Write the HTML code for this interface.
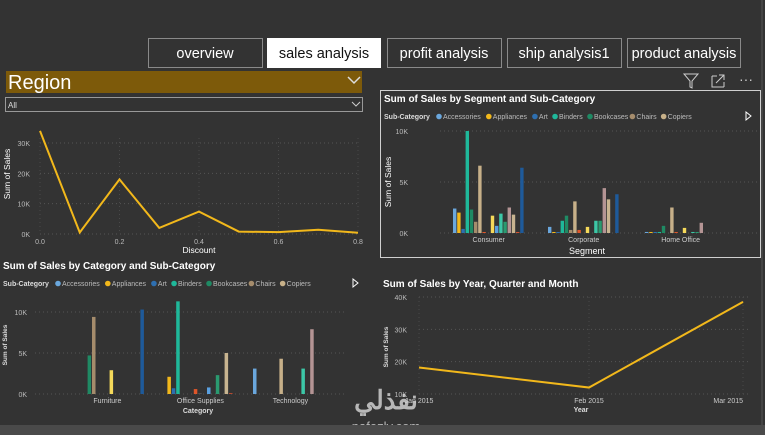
<!DOCTYPE html>
<html><head><meta charset="utf-8">
<style>
html,body{margin:0;padding:0;background:#333333;width:765px;height:435px;overflow:hidden;font-family:"Liberation Sans",sans-serif;}
svg{display:block}
</style></head>
<body>
<svg id="root" width="765" height="435" xmlns="http://www.w3.org/2000/svg" font-family="Liberation Sans, sans-serif">
  <rect x="0" y="0" width="765" height="435" fill="#333333"/>
  <line x1="762" y1="0" x2="762" y2="425" stroke="#555"/>
  <g>
    <g><rect x="148.5" y="38.5" width="114" height="29" fill="#333" stroke="#8a8a8a"/><text x="205" y="58" fill="#fff" font-size="14.5" text-anchor="middle">overview</text></g>
    <g><rect x="267" y="38" width="114" height="30" fill="#fff"/><text x="324" y="58" fill="#111" font-size="14.5" text-anchor="middle">sales analysis</text></g>
    <g><rect x="387.5" y="38.5" width="114" height="29" fill="#333" stroke="#8a8a8a"/><text x="444" y="58" fill="#fff" font-size="14.5" text-anchor="middle">profit analysis</text></g>
    <g><rect x="507.5" y="38.5" width="114" height="29" fill="#333" stroke="#8a8a8a"/><text x="564" y="58" fill="#fff" font-size="14.5" text-anchor="middle">ship analysis1</text></g>
    <g><rect x="627.5" y="38.5" width="113" height="29" fill="#333" stroke="#8a8a8a"/><text x="684" y="58" fill="#fff" font-size="14.5" text-anchor="middle">product analysis</text></g>
  </g>
  <g>
    <rect x="6" y="71" width="356" height="22" fill="#7d5a0a"/>
    <text x="8" y="89" fill="#fff" font-size="20">Region</text>
    <path d="M348 77 L354 83 L360 77" fill="none" stroke="#ddd" stroke-width="1.5"/>
    <rect x="5.5" y="97.5" width="357" height="14" fill="#333" stroke="#999"/>
    <text x="8" y="108" fill="#ddd" font-size="8">All</text>
    <path d="M352 102 L356 106 L360 102" fill="none" stroke="#ccc"/>
  </g>
  <g>
    <path d="M684 74 L698 74 L692 81 L692 88 L690 87 L690 81 Z" fill="none" stroke="#ccc"/>
    <path d="M712 76 L712 87 L724 87 M712 76 L717 76 M724 82 L724 87 M716 83 L724 75 M719 75 L724 75 L724 80" fill="none" stroke="#ccc"/>
    <text x="739" y="84" fill="#ccc" font-size="14">···</text>
  </g>
  <rect x="380.5" y="90.5" width="380" height="167" fill="none" stroke="#cfcfcf"/>
  <g id="c1"></g>
  <g id="c2"></g>
  <g id="c3"></g>
  <g id="c4"></g>
  <g opacity="0.8">
    <text x="386" y="409" fill="#d8d8d8" font-size="26" font-weight="bold" text-anchor="middle" font-family="Liberation Sans, Noto Sans CJK SC, sans-serif">نفذلي</text>
    <text x="386" y="431" fill="#d8d8d8" font-size="13" text-anchor="middle">nafezly.com</text>
  </g>
  <rect x="0" y="425" width="765" height="10" fill="#4a4a4a"/>
</svg>
<script>
const NS='http://www.w3.org/2000/svg';
function mk(p,tag,attrs,txt){const e=document.createElementNS(NS,tag);for(const k in attrs)e.setAttribute(k,attrs[k]);if(txt!==undefined)e.textContent=txt;p.appendChild(e);return e;}

// ---- Chart 1: Sales by Discount ----
const discX=[0,0.1,0.2,0.3,0.4,0.5,0.6,0.7,0.8];
const discSales=[34000,500,18000,2000,7400,800,600,1400,400];
const discXTicks=[0,0.2,0.4,0.6,0.8];
const discXTickLabels=['0.0','0.2','0.4','0.6','0.8'];
const discYTicks=[0,10000,20000,30000];
const discYTickLabels=['0K','10K','20K','30K'];

// ---- Chart 2: Segment x Sub-Category ----
const subCats=['Accessories','Appliances','Art','Binders','Bookcases','Chairs','Copiers','Envelopes','Fasteners','Furnishings','Labels','Machines','Paper','Phones','Storage','Supplies','Tables'];
const subColors=['#6aa7dd','#f2b81b','#2e6fb0','#1fb89a','#1f8a64','#a58c6c','#c7b089','#e0562a','#555555','#f5d95a','#5aa0e0','#3cc7a7','#2a9a70','#b49494','#c8b490','#d05030','#1e5a9a'];
const segments=['Consumer','Corporate','Home Office'];
const segConsumer=[2400,2000,400,10000,2300,1100,6600,100,0,1700,700,1900,1100,2500,1800,100,6400];
const segCorporate=[600,100,100,1200,1700,300,3100,300,0,600,0,1200,1200,4400,3300,0,3800];
const segHome=[100,100,100,100,700,0,2500,100,0,500,0,100,100,1000,0,0,0];
const segYTicks=[0,5000,10000];
const segYTickLabels=['0K','5K','10K'];

// ---- Chart 3: Category x Sub-Category ----
const categories=['Furniture','Office Supplies','Technology'];
const catFurniture=[0,0,0,0,4700,9400,0,0,0,2900,0,0,0,0,0,0,10300];
const catOffice=[0,2100,700,11300,0,0,0,600,100,0,800,0,2300,0,5000,100,0];
const catTech=[3100,0,0,0,0,0,4300,0,0,0,0,3100,0,7900,0,0,0];
const catYTicks=[0,5000,10000];
const catYTickLabels=['0K','5K','10K'];

// ---- Chart 4: Sales by Month ----
const months=['Jan 2015','Feb 2015','Mar 2015'];
const monthSales=[18200,12000,38500];
const monYTicks=[10000,20000,30000,40000];
const monYTickLabels=['10K','20K','30K','40K'];

function lin(d0,d1,r0,r1){return v=>r0+(v-d0)/(d1-d0)*(r1-r0);}

// Chart 1
(function(){
  const g=document.getElementById('c1');
  const x=lin(0,0.8,40,358), y=lin(0,30000,234,143);
  discYTicks.forEach((t,i)=>{
    const gl=mk(g,'line',{x1:40,x2:358,y1:y(t),y2:y(t),stroke:'#555','stroke-dasharray':'1,3'});
    
    
    const tl=mk(g,'text',{x:30,y:y(t)+3,fill:'#bbb','font-size':7,'text-anchor':'end'},discYTickLabels[i]);
    
    
  });
  discXTicks.forEach((t,i)=>{
    const gl=mk(g,'line',{x1:x(t),x2:x(t),y1:138,y2:234,stroke:'#4a4a4a','stroke-dasharray':'1,3'});
    
    
    const tl=mk(g,'text',{x:x(t),y:244,fill:'#bbb','font-size':7,'text-anchor':'middle'},discXTickLabels[i]);
    
    
  });
  const pts=discX.map((d,i)=>x(d)+','+y(discSales[i])).join(' ');
  const pl=mk(g,'polyline',{points:pts,fill:'none',stroke:'#f2b81b','stroke-width':2});
  
  
  const xt=mk(g,'text',{x:199,y:253,fill:'#fff','font-size':8.5,'text-anchor':'middle'},'Discount');
  
  
  const yt=mk(g,'text',{x:10,y:174,fill:'#fff','font-size':8.5,'text-anchor':'middle',transform:'rotate(-90 10 174)'},'Sum of Sales');
  
  
})();

function legend(g,x0,y0,fs){
  const lt=mk(g,'text',{x:x0,y:y0,fill:'#ddd','font-size':fs,'font-weight':'bold'},'Sub-Category');
  
  
  let x=x0+52;
  subCats.slice(0,7).forEach((s,i)=>{
    const c=mk(g,'circle',{cx:x+3,cy:y0-2.5,r:2.8,fill:subColors[i]});
    
    
    const t=mk(g,'text',{x:x+7,y:y0,fill:'#bbb','font-size':fs},s);
    
    
    x+=9+s.length*fs*0.53;
  });
}

function barChart(g,groups,vals,opts){
  const y=lin(0,10000,opts.y0,opts.y10);
  opts.ticks.forEach((t,i)=>{
    const gl=mk(g,'line',{x1:opts.gx0,x2:opts.gx1,y1:y(t),y2:y(t),stroke:'#555','stroke-dasharray':'1,3'});
    
    
    const tl=mk(g,'text',{x:opts.tx,y:y(t)+3,fill:'#bbb','font-size':7,'text-anchor':'end'},opts.tickLabels[i]);
    
    
  });
  groups.forEach((grp,gi)=>{
    const start=opts.start[gi];
    vals[gi].forEach((v,si)=>{
      if(v<=0)return;
      const r=mk(g,'rect',{x:start+si*opts.slot,y:y(v),width:opts.bw,height:opts.y0-y(v),fill:subColors[si]});
      
      
    });
    const cl=mk(g,'text',{x:start+opts.slot*8.5,y:opts.y0+9,fill:'#ccc','font-size':7,'text-anchor':'middle'},grp);
    
    
  });
}

// Chart 2
(function(){
  const g=document.getElementById('c2');
  const t=mk(g,'text',{x:384,y:102,fill:'#fff','font-size':10,'font-weight':'bold'},'Sum of Sales by Segment and Sub-Category');
  
  
  legend(g,384,119,7);
  const a=mk(g,'path',{d:'M746 112 L751 116 L746 120 Z',fill:'none',stroke:'#fff'});
  
  
  barChart(g,segments,[segConsumer,segCorporate,segHome],{y0:233,y10:131,gx0:440,gx1:758,tx:408,ticks:segYTicks,tickLabels:segYTickLabels,start:[453,548,645],slot:4.2,bw:3.4});
  const xt=mk(g,'text',{x:587,y:254,fill:'#fff','font-size':9,'text-anchor':'middle'},'Segment');
  
  
  const yt=mk(g,'text',{x:391,y:182,fill:'#fff','font-size':8.5,'text-anchor':'middle',transform:'rotate(-90 391 182)'},'Sum of Sales');
  
  
})();

// Chart 3
(function(){
  const g=document.getElementById('c3');
  const t=mk(g,'text',{x:3,y:269,fill:'#fff','font-size':10,'font-weight':'bold'},'Sum of Sales by Category and Sub-Category');
  
  
  legend(g,3,286,7);
  const a=mk(g,'path',{d:'M353 279 L358 283 L353 287 Z',fill:'none',stroke:'#fff'});
  
  
  barChart(g,categories,[catFurniture,catOffice,catTech],{y0:394,y10:312,gx0:35,gx1:345,tx:27,ticks:catYTicks,tickLabels:catYTickLabels,start:[70,163,253],slot:4.4,bw:3.5});
  const xt=mk(g,'text',{x:198,y:413,fill:'#ddd','font-size':7,'font-weight':'bold','text-anchor':'middle'},'Category');
  
  
  const yt=mk(g,'text',{x:7,y:345,fill:'#ddd','font-size':6.5,'font-weight':'bold','text-anchor':'middle',transform:'rotate(-90 7 345)'},'Sum of Sales');
  
  
})();

// Chart 4
(function(){
  const g=document.getElementById('c4');
  const t=mk(g,'text',{x:383,y:287,fill:'#fff','font-size':10,'font-weight':'bold'},'Sum of Sales by Year, Quarter and Month');
  
  
  const y=lin(10000,40000,394,297);
  const xs=[419,589,743];
  monYTicks.forEach((tk,i)=>{
    const gl=mk(g,'line',{x1:419,x2:748,y1:y(tk),y2:y(tk),stroke:'#555','stroke-dasharray':'1,3'});
    
    
    const tl=mk(g,'text',{x:407,y:y(tk)+3,fill:'#bbb','font-size':7,'text-anchor':'end'},monYTickLabels[i]);
    
    
  });
  months.forEach((m,i)=>{
    const gl=mk(g,'line',{x1:xs[i],x2:xs[i],y1:297,y2:394,stroke:'#4a4a4a','stroke-dasharray':'1,3'});
    
    
    const tl=mk(g,'text',{x:xs[i],y:403,fill:'#ccc','font-size':7,'text-anchor':i==2?'end':'middle'},m);
    
    
  });
  const pts=months.map((m,i)=>xs[i]+','+y(monthSales[i])).join(' ');
  const pl=mk(g,'polyline',{points:pts,fill:'none',stroke:'#f2b81b','stroke-width':2});
  
  
  const xt=mk(g,'text',{x:581,y:412,fill:'#ddd','font-size':7,'font-weight':'bold','text-anchor':'middle'},'Year');
  
  
  const yt=mk(g,'text',{x:388,y:347,fill:'#ddd','font-size':6.5,'font-weight':'bold','text-anchor':'middle',transform:'rotate(-90 388 347)'},'Sum of Sales');
  
  
})();
</script>
</body></html>
